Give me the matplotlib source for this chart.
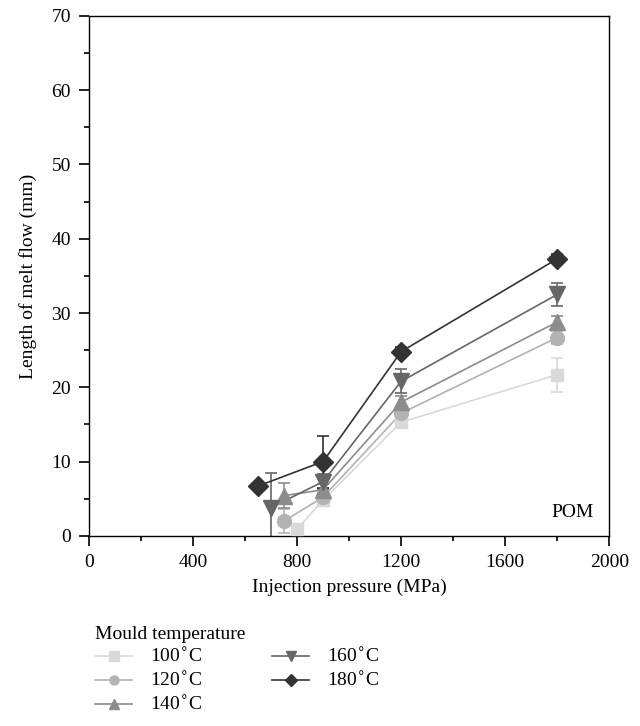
import matplotlib
matplotlib.use("Agg")
import matplotlib.pyplot as plt

plt.rcParams["font.family"] = ["Liberation Serif", "DejaVu Serif"]

# data
labels = ["100$^{\\circ}$C", "120$^{\\circ}$C", "140$^{\\circ}$C", "160$^{\\circ}$C", "180$^{\\circ}$C"]
x_100 = [800, 900, 1200, 1800]
y_100 = [0.9, 4.8, 15.3, 21.7]
e_100 = [0.4, 0.5, 0.6, 2.3]
x_120 = [750, 900, 1200, 1800]
y_120 = [2.0, 5.2, 16.5, 26.7]
e_120 = [1.6, 0.6, 0.8, 0.9]
x_140 = [750, 900, 1200, 1800]
y_140 = [5.4, 6.2, 18.0, 28.8]
e_140 = [1.7, 0.8, 0.8, 0.8]
x_160 = [700, 900, 1200, 1800]
y_160 = [3.8, 7.3, 20.8, 32.5]
e_160 = [4.6, 1.0, 1.6, 1.6]
x_180 = [650, 900, 1200, 1800]
y_180 = [6.7, 10.0, 24.8, 37.3]
e_180 = [0.4, 3.5, 0.6, 0.6]

series = [
    (x_100, y_100, e_100, "s", "#d9d9d9", 9),
    (x_120, y_120, e_120, "o", "#b3b3b3", 10),
    (x_140, y_140, e_140, "^", "#8c8c8c", 11),
    (x_160, y_160, e_160, "v", "#666666", 11),
    (x_180, y_180, e_180, "D", "#333333", 10.5),
]

fig = plt.figure(figsize=(6.4, 7.26), dpi=100)
ax = fig.add_axes([0.139, 0.262, 0.813, 0.716])

handles = []
for (xs, ys, es, m, c, ms), lab in zip(series, labels):
    ax.errorbar(xs, ys, yerr=es, fmt="none", ecolor=c, elinewidth=1.2,
                capsize=4, capthick=1.2, zorder=2)
    ax.plot(xs, ys, "-", color=c, lw=1.2, zorder=2)
    ax.plot(xs, ys, ls="none", marker=m, color=c, ms=ms, mec=c, zorder=3)
    h, = ax.plot([], [], "-", color=c, lw=1.2, marker=m, ms=6.5, label=lab)
    handles.append(h)

ax.set_xlim(0, 2000)
ax.set_ylim(0, 70)
ax.set_xticks([0, 400, 800, 1200, 1600, 2000])
ax.set_xticks(range(0, 2001, 200), minor=True)
ax.set_yticks(range(0, 71, 10))
ax.set_yticks(range(0, 71, 5), minor=True)
ax.tick_params(direction="out", labelsize=14, length=7, width=1.2, pad=6)
ax.tick_params(which="minor", direction="out", length=3.5, width=1.2)
for s in ax.spines.values():
    s.set_linewidth(1.0)

ax.set_xlabel("Injection pressure (MPa)", fontsize=14, labelpad=6)
ax.set_ylabel("Length of melt flow (mm)", fontsize=14, labelpad=10)
ax.text(0.97, 0.045, "POM", transform=ax.transAxes, ha="right", va="center", fontsize=14)

leg = fig.legend(handles=handles, ncol=2, loc="upper left",
                 bbox_to_anchor=(0.137, 0.149), frameon=False,
                 title="Mould temperature", fontsize=14, title_fontsize=14,
                 handlelength=1.9, columnspacing=3.6, labelspacing=0.25,
                 handletextpad=0.9, borderaxespad=0)
leg._legend_box.align = "left"

fig.savefig("out.png", dpi=100)
